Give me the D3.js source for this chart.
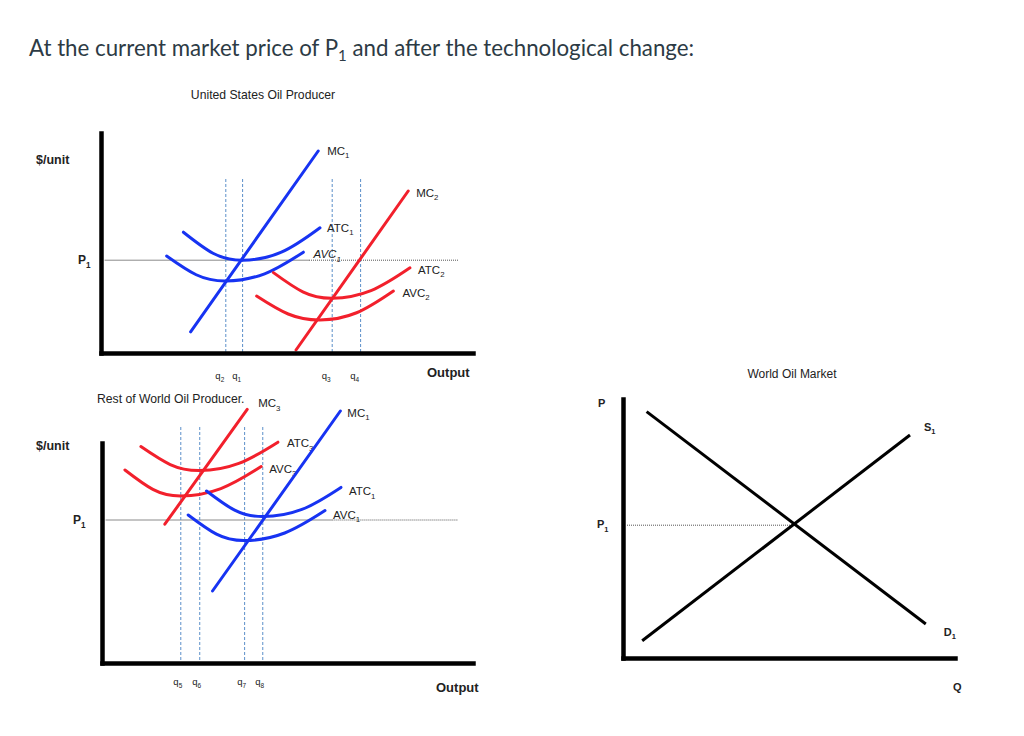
<!DOCTYPE html>
<html>
<head>
<meta charset="utf-8">
<script src="https://cdn.jsdelivr.net/npm/d3@7/dist/d3.min.js"></script>
<style>
body{margin:0;background:#fff;}
text{font-family:Arial,"Liberation Sans",sans-serif;fill:#222;}
</style>
</head>
<body>
<svg id="chart" width="1024" height="736"></svg>
<script>
// ---- data (arbitrary units) ----
// United States oil producer
const usP1 = 23.2;
const usQ = [31.2, 35.4, 57.8, 64.9];
const usQNames = ['2', '1', '3', '4'];
const usMC1 = [[22.4, 5.3], [54.3, 50.5]];
const usMC2 = [[48.75, 0.75], [76.8, 40.5]];
const usATC1 = [[20.6, 30.2], [28, 24.95], [35.4, 23.2], [45.1, 25.2], [54.75, 31.3]];
const usAVC1 = [[16.4, 24.25], [23.8, 19.56], [31.2, 18], [40.9, 19.8], [50.6, 25.2]];
const usATC2 = [[43.1, 20.1], [50.45, 15.3], [57.8, 13.7], [67.5, 15.6], [77.25, 21.3]];
const usAVC2 = [[38.9, 14.25], [46.8, 9.75], [54.75, 8.25], [63.9, 10.06], [73.1, 15.5]];

// Rest of world oil producer
const rwP1 = 35.75;
const rwQ = [19.75, 24.5, 35.75, 40.3];
const rwQNames = ['5', '6', '7', '8'];
const rwMC3 = [[15.75, 34.7], [36.4, 63.4]];
const rwMC1 = [[27.7, 18], [59.75, 63]];
const rwATC3 = [[9.75, 54.1], [17.1, 49.6], [24.5, 48.1], [34.3, 49.9], [44.1, 55.2]];
const rwAVC3 = [[5.75, 48.25], [12.75, 43.4], [19.75, 41.75], [29.8, 43.6], [39.9, 49.1]];
const rwATC1 = [[26.2, 43], [33.25, 38.2], [40.3, 36.6], [50.1, 38.4], [59.9, 43.9]];
const rwAVC1 = [[21.6, 37], [28.7, 32.2], [35.75, 30.6], [45.8, 32.5], [55.9, 38.1]];

// World oil market
const wmP1 = 33.2;
const wmQe = 42.8;
const wmDemand = [[5.9, 61.6], [75.7, 8.5]];
const wmSupply = [[4.8, 4.3], [71.75, 55.75]];

const blue = '#1733f2';
const red = '#f2202c';

const svg = d3.select('#chart');

// title
let title = svg.append('text').attr('x', 29).attr('y', 56)
  .style('font-family', 'Lato, "Open Sans", sans-serif').style('font-size', '22.3px').style('fill', '#2d3b45');
title.append('tspan').text('At the current market price of P');
title.append('tspan').attr('dy', 5).style('font-size', '15px').text('1');
title.append('tspan').attr('dy', -5).text(' and after the technological change:');

function subLabel(g, x, y, main, sub, size, opts) {
  opts = opts || {};
  let t = g.append('text').attr('x', x).attr('y', y).style('font-size', size + 'px');
  if (opts.bold) t.style('font-weight', 'bold');
  if (opts.italic) t.style('font-style', 'italic');
  if (opts.anchor) t.attr('text-anchor', opts.anchor);
  t.append('tspan').text(main);
  if (sub) t.append('tspan').attr('dy', size * 0.3).style('font-size', (size * 0.68) + 'px').text(sub);
  return t;
}

function drawAxes(g, x, y, xMax, yMax) {
  g.append('g').attr('transform', `translate(0,${y(0)})`)
    .call(d3.axisBottom(x.copy().domain([0, xMax]).range([x(0), x(xMax)])).tickValues([]).tickSizeOuter(0))
    .select('.domain').attr('stroke', '#000').attr('stroke-width', 4.5).attr('stroke-linecap', 'square');
  g.append('g').attr('transform', `translate(${x(0)},0)`)
    .call(d3.axisLeft(y.copy().domain([0, yMax]).range([y(0), y(yMax)])).tickValues([]).tickSizeOuter(0))
    .select('.domain').attr('stroke', '#000').attr('stroke-width', 4.5).attr('stroke-linecap', 'square');
}

function drawProducer(cfg) {
  const g = svg.append('g');
  const x = d3.scaleLinear().domain([0, 93]).range([cfg.left, 473]);
  const y = d3.scaleLinear().domain([0, 55]).range([cfg.bottom, cfg.bottom - 220]);
  const uLine = d3.line().curve(d3.curveNatural).x(d => x(d[0])).y(d => y(d[1]));

  // P1 line: solid grey then dotted
  g.append('line').attr('x1', x(0.9)).attr('x2', x(cfg.solidEnd)).attr('y1', y(cfg.p1)).attr('y2', y(cfg.p1))
    .attr('stroke', '#8a8a8a').attr('stroke-width', 1);
  g.append('line').attr('x1', x(cfg.solidEnd)).attr('x2', x(89.3)).attr('y1', y(cfg.p1)).attr('y2', y(cfg.p1))
    .attr('stroke', '#555').attr('stroke-width', 1).attr('stroke-dasharray', '1,1');

  // q guides
  g.selectAll('line.q').data(cfg.q).join('line').attr('class', 'q')
    .attr('x1', d => x(d)).attr('x2', d => x(d)).attr('y1', y(cfg.qTop)).attr('y2', y(0))
    .attr('stroke', '#5b8fc9').attr('stroke-width', 1).attr('stroke-dasharray', '3,2');
  cfg.q.forEach((d, i) => subLabel(g, x(d) + cfg.qDx, y(0) + cfg.qDy, 'q', cfg.qNames[i], 9.5, {anchor: 'middle'}));

  // curves
  cfg.curves.forEach(c => {
    const pts = c.pts;
    g.append('path').attr('d', uLine(pts))
      .attr('fill', 'none').attr('stroke', c.color).attr('stroke-width', 3).attr('stroke-linecap', 'round');
    const e = pts[pts.length - 1];
    subLabel(g, x(e[0]) + (c.dx || 8), y(e[1]) + (c.dy || 5), c.name, c.sub, 11.5, {italic: c.italic});
  });

  drawAxes(g, x, y, 93, 55);

  subLabel(g, 36, y(0) - cfg.unitUp, '$/unit', null, 12.5, {bold: true});
  subLabel(g, cfg.p1x, y(cfg.p1) + 4, 'P', '1', 12, {bold: true});
  subLabel(g, cfg.outX, cfg.outY, 'Output', null, 13, {bold: true});
  return g;
}

// United States
drawProducer({
  left: 101, bottom: 353, p1: usP1, p1x: 78, solidEnd: 52, q: usQ, qNames: usQNames, qTop: 43.5,
  qDx: -6, qDy: 26, outX: 427, outY: 377, unitUp: 189,
  curves: [
    {pts: usMC1, color: blue, name: 'MC', sub: '1', dx: 9, dy: 4},
    {pts: usATC1, color: blue, name: 'ATC', sub: '1', dx: 7, dy: 4},
    {pts: usAVC1, color: blue, name: 'AVC', sub: '1', dx: 10, dy: 6, italic: true},
    {pts: usMC2, color: red, name: 'MC', sub: '2', dx: 8, dy: 6},
    {pts: usATC2, color: red, name: 'ATC', sub: '2', dx: 8, dy: 6},
    {pts: usAVC2, color: red, name: 'AVC', sub: '2', dx: 9, dy: 6}
  ]
});
svg.append('text').attr('x', 263).attr('y', 99).attr('text-anchor', 'middle').style('font-size', '12.2px')
  .text('United States Oil Producer');

// Rest of world
drawProducer({
  left: 102, bottom: 663, p1: rwP1, p1x: 73, solidEnd: 57.75, q: rwQ, qNames: rwQNames, qTop: 59,
  qDx: -3, qDy: 22, outX: 436, outY: 692, unitUp: 213,
  curves: [
    {pts: rwMC3, color: red, name: 'MC', sub: '3', dx: 11, dy: -2},
    {pts: rwATC3, color: red, name: 'ATC', sub: '3', dx: 9, dy: 5},
    {pts: rwAVC3, color: red, name: 'AVC', sub: '3', dx: 8, dy: 6},
    {pts: rwMC1, color: blue, name: 'MC', sub: '1', dx: 7, dy: 6},
    {pts: rwATC1, color: blue, name: 'ATC', sub: '1', dx: 8, dy: 8},
    {pts: rwAVC1, color: blue, name: 'AVC', sub: '1', dx: 8, dy: 8}
  ]
});
svg.append('text').attr('x', 97).attr('y', 403).style('font-size', '12.2px')
  .text('Rest of World Oil Producer.');

// World market
(function () {
  const g = svg.append('g');
  const x = d3.scaleLinear().domain([0, 83]).range([623, 955]);
  const y = d3.scaleLinear().domain([0, 64.75]).range([658, 399]);
  const ln = d3.line().x(d => x(d[0])).y(d => y(d[1]));

  g.append('line').attr('x1', x(1)).attr('x2', x(wmQe)).attr('y1', y(wmP1)).attr('y2', y(wmP1))
    .attr('stroke', '#555').attr('stroke-width', 1).attr('stroke-dasharray', '1,1');
  [wmDemand, wmSupply].forEach(d => {
    g.append('path').attr('d', ln(d)).attr('fill', 'none').attr('stroke', '#000').attr('stroke-width', 3);
  });
  drawAxes(g, x, y, 83, 64.75);

  const s = wmSupply[1], dd = wmDemand[1];
  subLabel(g, x(s[0]) + 14, y(s[1]) - 4, 'S', '1', 11, {bold: true});
  subLabel(g, x(dd[0]) + 18, y(dd[1]) + 12, 'D', '1', 11, {bold: true});
  subLabel(g, 598, y(64.75) + 8, 'P', null, 11, {bold: true});
  subLabel(g, 597, y(wmP1) + 3, 'P', '1', 11, {bold: true});
  subLabel(g, 953, 691, 'Q', null, 11, {bold: true});
  g.append('text').attr('x', 792).attr('y', 378).attr('text-anchor', 'middle').style('font-size', '12px')
    .text('World Oil Market');
})();
</script>
</body>
</html>
